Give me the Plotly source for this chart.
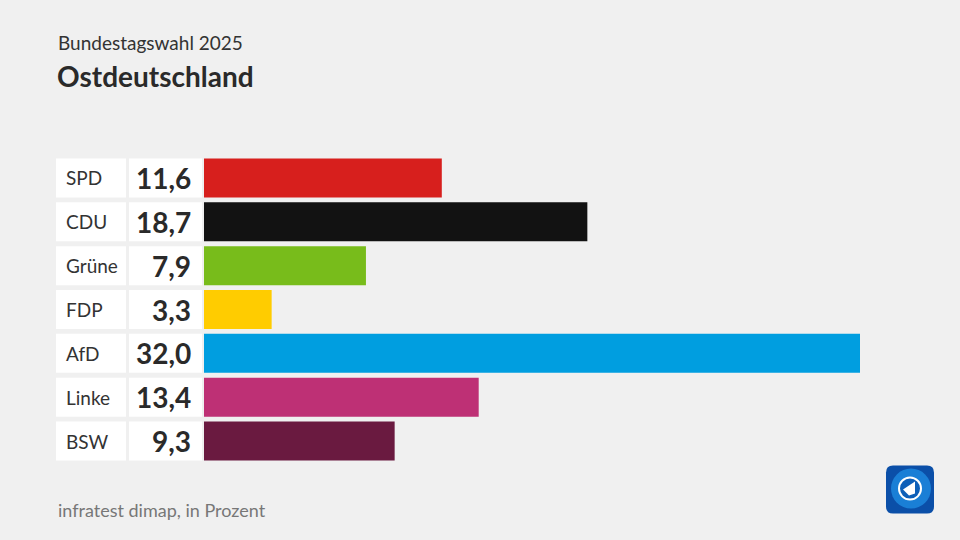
import plotly.graph_objects as go

parties = ["SPD", "CDU", "Grüne", "FDP", "AfD", "Linke", "BSW"]
values = [11.6, 18.7, 7.9, 3.3, 32.0, 13.4, 9.3]
value_labels = ["11,6", "18,7", "7,9", "3,3", "32,0", "13,4", "9,3"]
colors = ["#d71f1d", "#121212", "#78bc1b", "#ffcc00", "#009ee0", "#be3075", "#6a1a40"]

W, H = 960, 540
L, R = 204, 100
PW = W - L - R

def px(x):
    return (x - L) / PW

fig = go.Figure(go.Bar(
    x=values, y=parties, orientation="h",
    marker=dict(color=colors, line=dict(width=0)),
    hoverinfo="skip",
))

shapes = []
annotations = []
for i, (p, v) in enumerate(zip(parties, value_labels)):
    shapes.append(dict(type="rect", xref="paper", yref="y", x0=px(56), x1=px(126),
                       y0=i - 0.445, y1=i + 0.445, fillcolor="white", line=dict(width=0), layer="below"))
    shapes.append(dict(type="rect", xref="paper", yref="y", x0=px(129), x1=px(202),
                       y0=i - 0.445, y1=i + 0.445, fillcolor="white", line=dict(width=0), layer="below"))
    annotations.append(dict(x=px(64), y=p, xref="paper", yref="y", text=p, showarrow=False,
                            xanchor="left", yanchor="middle",
                            font=dict(family="Lato", size=19, color="#333333")))
    annotations.append(dict(x=px(193), y=p, xref="paper", yref="y", text=f"<b>{v}</b>", showarrow=False,
                            xanchor="right", yanchor="middle",
                            font=dict(family="Lato", size=28, color="#2a2a2a")))

# header / footer
annotations += [
    dict(x=px(56), y=1 + (156 - 42) / 307.3, xref="paper", yref="paper", text="Bundestagswahl 2025",
         showarrow=False, xanchor="left", yanchor="middle",
         font=dict(family="Lato", size=19, color="#333333")),
    dict(x=px(55), y=1 + (156 - 76) / 307.3, xref="paper", yref="paper", text="<b>Ostdeutschland</b>",
         showarrow=False, xanchor="left", yanchor="middle",
         font=dict(family="Lato", size=28, color="#2a2a2a")),
    dict(x=px(56), y=-(510 - 463.4) / 307.3, xref="paper", yref="paper", text="infratest dimap, in Prozent",
         showarrow=False, xanchor="left", yanchor="middle",
         font=dict(family="Lato", size=18, color="#777777")),
]

# logo (approximation)
def py(y):
    return 1 - (y - 156.1) / 307.3
x0, x1, y0, y1, r = 886, 934, 466, 514, 7
path = (f"M {px(x0+r)},{py(y0)} L {px(x1-r)},{py(y0)} Q {px(x1)},{py(y0)} {px(x1)},{py(y0+r)} "
        f"L {px(x1)},{py(y1-r)} Q {px(x1)},{py(y1)} {px(x1-r)},{py(y1)} "
        f"L {px(x0+r)},{py(y1)} Q {px(x0)},{py(y1)} {px(x0)},{py(y1-r)} "
        f"L {px(x0)},{py(y0+r)} Q {px(x0)},{py(y0)} {px(x0+r)},{py(y0)} Z")
shapes.append(dict(type="path", xref="paper", yref="paper", path=path, fillcolor="#0b4fa8", line=dict(width=0)))
shapes.append(dict(type="circle", xref="paper", yref="paper", x0=px(891), x1=px(931), y0=py(469), y1=py(509),
                   fillcolor="#1a7fd6", line=dict(width=0)))
shapes.append(dict(type="circle", xref="paper", yref="paper", x0=px(899), x1=px(921), y0=py(478), y1=py(500),
                   fillcolor="#0d5fb8", line=dict(color="white", width=2)))
shapes.append(dict(type="path", xref="paper", yref="paper",
                   path=f"M {px(903)},{py(490)} L {px(915)},{py(482)} L {px(915)},{py(494)} L {px(909)},{py(496)} Z",
                   fillcolor="white", line=dict(width=0)))

fig.update_layout(
    width=W, height=H,
    margin=dict(l=L, r=R, t=156.1, b=H - 463.4, pad=0),
    paper_bgcolor="#f0f0f0", plot_bgcolor="#f0f0f0",
    bargap=0.11,
    showlegend=False,
    xaxis=dict(range=[0, 32], visible=False, fixedrange=True),
    yaxis=dict(autorange="reversed", visible=False, fixedrange=True),
    shapes=shapes, annotations=annotations,
)

fig.write_html("out.html", config={"displayModeBar": False},
               post_script="document.body.style.margin='0';document.body.style.background='#f0f0f0';document.body.style.overflow='hidden';")
